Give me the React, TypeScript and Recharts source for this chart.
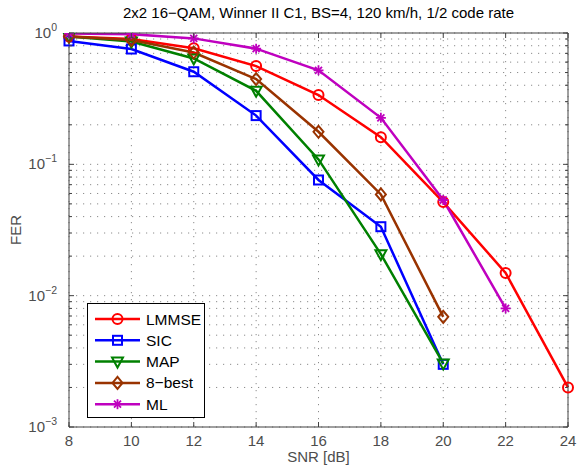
import React from 'react';
import { LineChart, Line, XAxis, YAxis, CartesianGrid } from 'recharts';

const snr = [8, 10, 12, 14, 16, 18, 20, 22, 24];
const lmmse = [0.94, 0.9, 0.765, 0.56, 0.337, 0.161, 0.0516, 0.0149, 0.002];
const sic = [0.87, 0.755, 0.507, 0.235, 0.076, 0.0335, 0.003, null, null];
const mapDet = [0.94, 0.86, 0.64, 0.363, 0.109, 0.0207, 0.00305, null, null];
const best8 = [0.94, 0.885, 0.71, 0.446, 0.177, 0.059, 0.0069, null, null];
const ml = [0.99, 0.98, 0.91, 0.76, 0.52, 0.226, 0.0535, 0.008, null];

const xTicks = [8, 10, 12, 14, 16, 18, 20, 22, 24];
const majorY = [0.001, 0.01, 0.1, 1];
const yTicks = [
  0.001, 0.002, 0.003, 0.004, 0.005, 0.006, 0.007, 0.008, 0.009,
  0.01, 0.02, 0.03, 0.04, 0.05, 0.06, 0.07, 0.08, 0.09,
  0.1, 0.2, 0.3, 0.4, 0.5, 0.6, 0.7, 0.8, 0.9, 1,
];

const series = [
  { key: 'lmmse', name: 'LMMSE', color: '#ff0000', shape: 'circle' },
  { key: 'sic', name: 'SIC', color: '#0000ff', shape: 'square' },
  { key: 'map', name: 'MAP', color: '#008000', shape: 'triangle' },
  { key: 'best8', name: '8\u2212best', color: '#993300', shape: 'diamond' },
  { key: 'ml', name: 'ML', color: '#bf00bf', shape: 'star' },
];

const data = snr.map((s, i) => ({
  snr: s,
  lmmse: lmmse[i],
  sic: sic[i],
  map: mapDet[i],
  best8: best8[i],
  ml: ml[i],
}));

const FONT = '"Liberation Sans", Arial, Helvetica, sans-serif';
const AXIS = '#404040';
const TXT = '#4d4d4d';

const Marker = ({ cx, cy, shape, color }: any) => {
  if (cx == null || cy == null) return null;
  const sw = 2;
  if (shape === 'circle') return <circle cx={cx} cy={cy} r={5} fill="none" stroke={color} strokeWidth={sw} />;
  if (shape === 'square') return <rect x={cx - 4.5} y={cy - 4.5} width={9} height={9} fill="none" stroke={color} strokeWidth={sw} />;
  if (shape === 'triangle')
    return <polygon points={`${cx - 5.5},${cy - 4} ${cx + 5.5},${cy - 4} ${cx},${cy + 6}`} fill="none" stroke={color} strokeWidth={sw} />;
  if (shape === 'diamond')
    return <polygon points={`${cx},${cy - 6} ${cx + 5},${cy} ${cx},${cy + 6} ${cx - 5},${cy}`} fill="none" stroke={color} strokeWidth={sw} />;
  return (
    <g stroke={color} strokeWidth={1.8}>
      <line x1={cx - 5} y1={cy} x2={cx + 5} y2={cy} />
      <line x1={cx} y1={cy - 5} x2={cx} y2={cy + 5} />
      <line x1={cx - 3.5} y1={cy - 3.5} x2={cx + 3.5} y2={cy + 3.5} />
      <line x1={cx - 3.5} y1={cy + 3.5} x2={cx + 3.5} y2={cy - 3.5} />
    </g>
  );
};

const isMajor = (v: number) => majorY.some((m) => Math.abs(m - v) < 1e-12);

const YTickLeft = ({ x, y, payload }: any) => {
  const v = payload.value;
  const major = isMajor(v);
  const exp = Math.round(Math.log10(v));
  return (
    <g>
      <line x1={x} y1={y} x2={x + (major ? 5 : 3)} y2={y} stroke={AXIS} strokeWidth={1} />
      {major && (
        <text x={x - 12} y={y + 5} textAnchor="end" fill={TXT} fontSize={15} fontFamily={FONT}>
          10
          <tspan dy={-7} fontSize={10.5}>{exp === 0 ? '0' : `\u2212${-exp}`}</tspan>
        </text>
      )}
    </g>
  );
};

const YTickRight = ({ x, y, payload }: any) => {
  const major = isMajor(payload.value);
  return <line x1={x} y1={y} x2={x - (major ? 5 : 3)} y2={y} stroke={AXIS} strokeWidth={1} />;
};

const XTickBottom = ({ x, y, payload }: any) => (
  <g>
    <line x1={x} y1={y} x2={x} y2={y - 5} stroke={AXIS} strokeWidth={1} />
    <text x={x} y={y + 19} textAnchor="middle" fill={TXT} fontSize={15} fontFamily={FONT}>
      {payload.value}
    </text>
  </g>
);

const XTickTop = ({ x, y }: any) => <line x1={x} y1={y} x2={x} y2={y + 5} stroke={AXIS} strokeWidth={1} />;

const LegendBox = () => (
  <div
    style={{
      position: 'absolute',
      left: 87,
      top: 303,
      border: '1.5px solid #000',
      background: '#fff',
      width: 118,
      height: 115,
      boxSizing: 'border-box',
    }}
  >
    <svg width={115} height={112} style={{ display: 'block' }}>
      {series.map((s, i) => {
        const cy = 15 + i * 21.3;
        return (
          <g key={s.key}>
            <line x1={7} y1={cy} x2={52} y2={cy} stroke={s.color} strokeWidth={2.5} />
            <Marker cx={29.5} cy={cy} shape={s.shape} color={s.color} />
            <text x={58} y={cy + 5.5} fontSize={15.5} fill="#000" fontFamily={FONT}>
              {s.name}
            </text>
          </g>
        );
      })}
    </svg>
  </div>
);

export default function App() {
  return (
    <div style={{ position: 'absolute', left: 0, top: 0, width: 581, height: 468, background: '#fff', fontFamily: FONT }}>
      <LineChart width={581} height={468} data={data} margin={{ top: 32, right: 12, bottom: 40, left: 68 }}>
        <CartesianGrid xAxisId="b" yAxisId="l" stroke="#8c8c8c" strokeDasharray="1.2 5.8" strokeWidth={1} />
        <XAxis
          xAxisId="b"
          dataKey="snr"
          type="number"
          domain={[8, 24]}
          ticks={xTicks}
          height={1}
          tickSize={0}
          tickMargin={0}
          tick={<XTickBottom />}
          axisLine={{ stroke: AXIS, strokeWidth: 1 }}
          interval={0}
        />
        <XAxis
          xAxisId="t"
          orientation="top"
          dataKey="snr"
          type="number"
          domain={[8, 24]}
          ticks={xTicks}
          height={1}
          tickSize={0}
          tickMargin={0}
          tick={<XTickTop />}
          axisLine={{ stroke: AXIS, strokeWidth: 1 }}
          interval={0}
        />
        <YAxis
          yAxisId="l"
          scale="log"
          type="number"
          domain={[0.001, 1]}
          ticks={yTicks}
          width={1}
          tickSize={0}
          tickMargin={0}
          tick={<YTickLeft />}
          axisLine={{ stroke: AXIS, strokeWidth: 1 }}
          interval={0}
          allowDataOverflow
        />
        <YAxis
          yAxisId="r"
          orientation="right"
          scale="log"
          type="number"
          domain={[0.001, 1]}
          ticks={yTicks}
          width={1}
          tickSize={0}
          tickMargin={0}
          tick={<YTickRight />}
          axisLine={{ stroke: AXIS, strokeWidth: 1 }}
          interval={0}
          allowDataOverflow
        />
        {series.map((s) => (
          <Line
            key={s.key}
            xAxisId="b"
            yAxisId="l"
            dataKey={s.key}
            name={s.name}
            stroke={s.color}
            strokeWidth={2.5}
            isAnimationActive={false}
            connectNulls={false}
            dot={(p: any) => <Marker key={`${s.key}-${p.index}`} cx={p.cx} cy={p.cy} shape={s.shape} color={s.color} />}
            activeDot={false}
          />
        ))}
      </LineChart>
      <LegendBox />
      <div style={{ position: 'absolute', top: 4, left: 69, width: 499, textAlign: 'center', fontSize: 15, color: '#000' }}>
        2x2 16{'\u2212'}QAM, Winner II C1, BS=4, 120 km/h, 1/2 code rate
      </div>
      <div style={{ position: 'absolute', top: 448, left: 69, width: 499, textAlign: 'center', fontSize: 15, color: TXT }}>
        SNR [dB]
      </div>
      <div
        style={{
          position: 'absolute',
          left: 15,
          top: 230,
          transform: 'translate(-50%, -50%) rotate(-90deg)',
          fontSize: 15,
          color: TXT,
        }}
      >
        FER
      </div>
    </div>
  );
}
